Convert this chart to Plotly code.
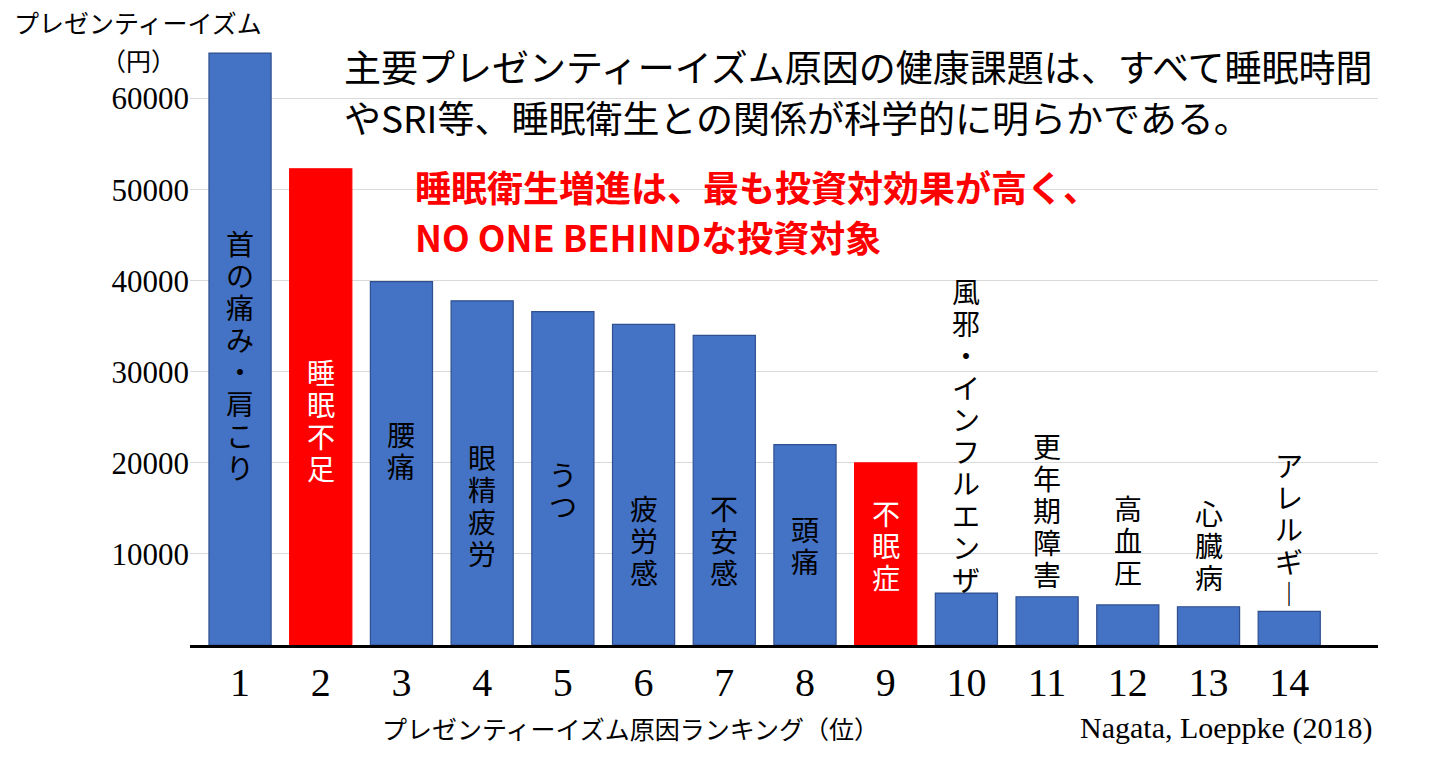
import plotly.graph_objects as go

ranks = list(range(1, 15))
values = [65000, 52300, 39900, 37800, 36600, 35200, 34000, 22000, 20000, 5700, 5300, 4400, 4200, 3700]
labels = ["首の痛み・肩こり", "睡眠不足", "腰痛", "眼精疲労", "うつ", "疲労感", "不安感", "頭痛", "不眠症",
          "風邪・インフルエンザ", "更年期障害", "高血圧", "心臓病", "アレルギ︱"]
label_y = [31900, 24700, 21400, 15400, 17000, 11500, 11500, 11000, 11000, 23100, 14800, 11500, 11000, 12700]
highlight = [2, 9]
yticks = [10000, 20000, 30000, 40000, 50000, 60000]

colors = ["#FF0000" if r in highlight else "#4472C4" for r in ranks]
lines = ["#FF0000" if r in highlight else "#2F4F8F" for r in ranks]

fig = go.Figure(go.Bar(x=ranks, y=values, marker=dict(color=colors, line=dict(color=lines, width=1.2)), width=0.77))

jp = "Noto Sans CJK JP"
L, R, T, B = 182, 64, 36, 129
pw, ph = 1434 - L - R, 766 - T - B
ymax = 66000
unit_per_px = ymax / ph
step = 32 * unit_per_px

for r, lab, ly in zip(ranks, labels, label_y):
    n = len(lab)
    for i, ch in enumerate(lab):
        cy = ly + ((n - 1) / 2 - i) * step
        fig.add_annotation(x=r, y=cy, xref="x", yref="y", text=ch, showarrow=False,
                           yanchor="middle",
                           font=dict(family=jp, size=28, color="white" if r in highlight else "black"))

def pa(text, x, y, size, color="black", fam=jp, xanchor="left"):
    # x, y: target pixel positions in the screenshot (8px page offset)
    px, py = x - 8, y - 8
    fig.add_annotation(x=(px - L) / pw, y=(766 - py - B) / ph, xref="paper", yref="paper", text=text,
                       showarrow=False, xanchor=xanchor, yanchor="middle",
                       font=dict(family=fam, size=size, color=color))

pa("主要プレゼンティーイズム原因の健康課題は、すべて睡眠時間", 342, 66, 37)
pa("やSRI等、睡眠衛生との関係が科学的に明らかである。", 342, 117, 37)
pa("<b>睡眠衛生増進は、最も投資対効果が高く、</b>", 413, 186, 36, "#FF0000")
pa("<b>NO ONE BEHINDな投資対象</b>", 413, 236, 36, "#FF0000")
pa("プレゼンティーイズム", 138, 22, 25, xanchor="center")
pa("（円）", 138, 60, 25, xanchor="center")
pa("プレゼンティーイズム原因ランキング（位）", 630, 728, 25, xanchor="center")
pa("Nagata, Loeppke (2018)", 1374, 728, 30, fam="Liberation Serif", xanchor="right")

fig.update_layout(
    width=1434, height=766, margin=dict(l=L, r=R, t=T, b=B, autoexpand=False),
    plot_bgcolor="white", paper_bgcolor="white", showlegend=False,
    xaxis=dict(range=[0.38, 15.1], tickvals=ranks, ticktext=[str(r) for r in ranks],
               tickfont=dict(family="Liberation Serif", size=40, color="black"),
               showline=True, linecolor="black", linewidth=2.5, ticks="", showgrid=False, zeroline=False),
    yaxis=dict(range=[0, ymax], tickvals=yticks, ticktext=[str(v) for v in yticks],
               tickfont=dict(family="Liberation Serif", size=31, color="black"),
               showgrid=True, gridcolor="#D9D9D9", gridwidth=1, zeroline=False, showline=False, ticks=""),
)
fig.write_html("out.html")
